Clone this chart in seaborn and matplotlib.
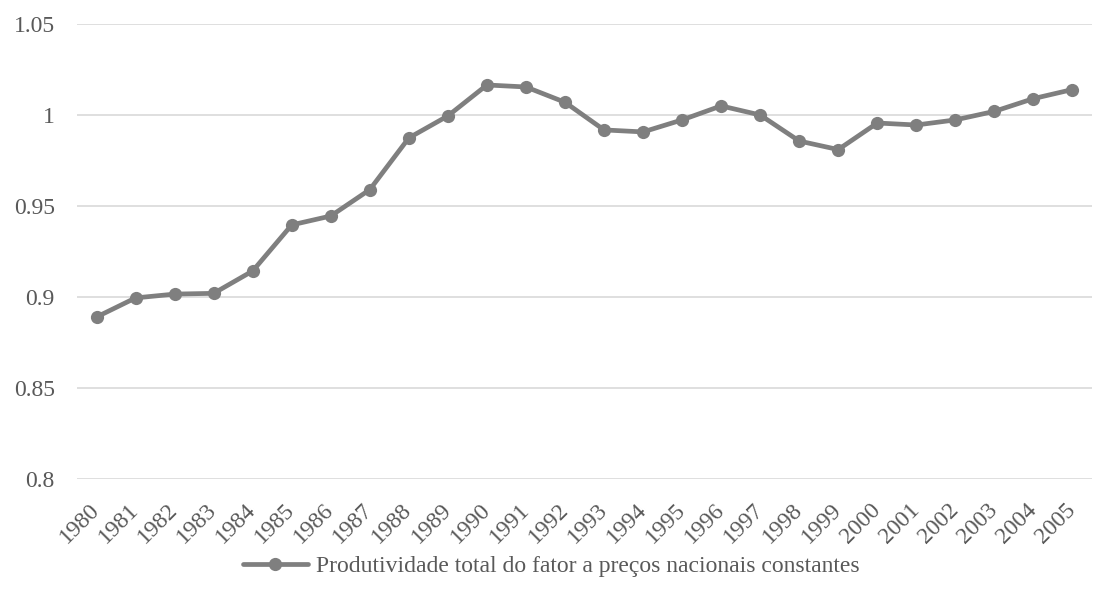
import numpy as np
import pandas as pd
import matplotlib
matplotlib.use("Agg")
import matplotlib.pyplot as plt
import seaborn as sns

# valores
anos = [str(a) for a in range(1980, 2006)]
ptf = [0.889, 0.8995, 0.9016, 0.902, 0.9143, 0.9396, 0.9445, 0.959, 0.9874, 0.9995,
       1.0165, 1.0154, 1.007, 0.9918, 0.9907, 0.9973, 1.005, 1.0, 0.9857, 0.981,
       0.9956, 0.9945, 0.9973, 1.002, 1.009, 1.014]
serie = "Produtividade total do fator a preços nacionais constantes"
y_ticks = [0.8, 0.85, 0.9, 0.95, 1.0, 1.05]
y_labels = ["0.8", "0.85", "0.9", "0.95", "1", "1.05"]

df = pd.DataFrame({"ano": anos, "ptf": ptf, "serie": serie})
df["pos"] = np.arange(len(anos))

sns.set_style("white")
plt.rcParams["font.family"] = ["Liberation Serif", "DejaVu Serif"]

fig = plt.figure(figsize=(11.02, 6), dpi=100)
ax = fig.add_axes([0.0699, 0.2017, 0.921, 0.7583])

sns.lineplot(data=df, x="pos", y="ptf", hue="serie", palette=["#7f7f7f"],
             marker="o", markersize=9.5, markeredgewidth=0, linewidth=3.4, ax=ax)

ax.set_xlim(-0.5, len(anos) - 0.5)
ax.set_ylim(0.8, 1.05)
ax.set_yticks(y_ticks)
ax.set_yticklabels(y_labels)
ax.set_xticks(df["pos"])
ax.set_xticklabels(anos, rotation=45, ha="right", va="center", rotation_mode="anchor")
ax.tick_params(axis="both", length=0, labelsize=17, labelcolor="#595959")
ax.tick_params(axis="y", pad=16)
ax.tick_params(axis="x", pad=20)
ax.yaxis.grid(True, color="#d9d9d9", linewidth=1.2)
ax.set_axisbelow(True)
for s in ax.spines.values():
    s.set_visible(False)
ax.set_xlabel("")
ax.set_ylabel("")

ax.legend(loc="center", bbox_to_anchor=(0.5, 0.056), bbox_transform=fig.transFigure,
          frameon=False, fontsize=17, labelcolor="#595959", handlelength=2.75,
          handletextpad=0.35, markerscale=1.0)

fig.savefig("out.png", dpi=100)
